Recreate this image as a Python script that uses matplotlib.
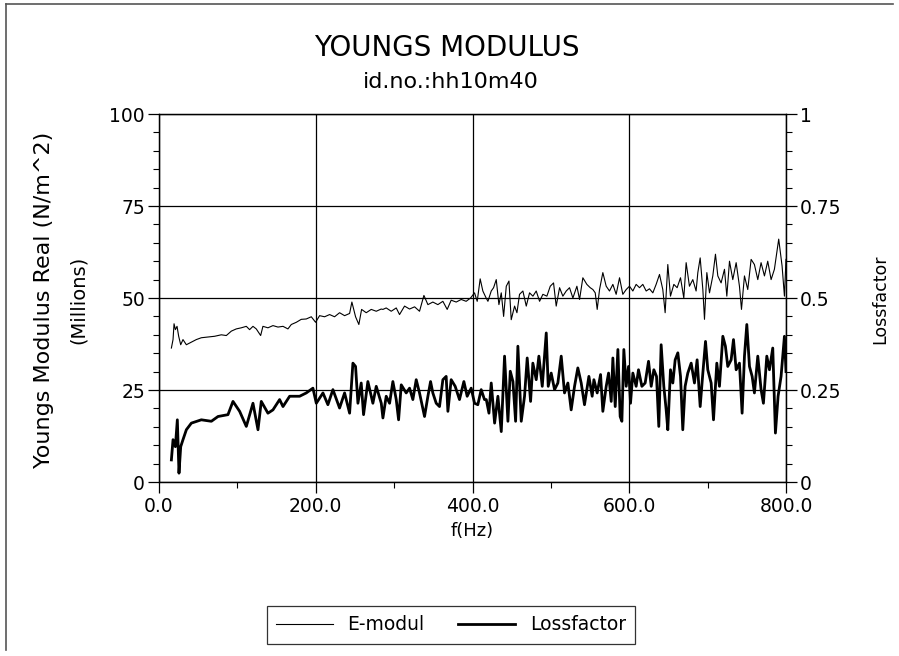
import matplotlib
matplotlib.use("Agg")
import matplotlib.pyplot as plt
from matplotlib.ticker import MultipleLocator, FixedLocator, FuncFormatter
from matplotlib.lines import Line2D

# ---------------- data ----------------
emod_f = [15.8, 17.9, 19.2, 20.9, 23.0, 25.1, 27.7, 30.6, 34.9, 41.3, 47.6, 54.0, 62.5, 71.0,
          79.5, 85.9, 92.3, 98.6, 105.0, 111.4, 115.6, 119.9, 124.1, 129.7, 132.6, 139.0,
          145.4, 151.8, 158.2, 164.5, 168.8, 175.2, 181.5, 187.9, 194.3, 199.8, 204.9, 211.3,
          217.7, 224.0, 230.4, 236.8, 243.2, 246.1, 250.8, 255.0, 258.5, 264.4, 270.8, 277.2,
          283.5, 285.7, 289.9, 296.3, 302.7, 306.9, 313.3, 319.7, 326.1, 332.4, 338.0, 343.1,
          349.4, 355.8, 362.2, 367.7, 372.8, 379.2, 385.6, 391.9, 397.5, 402.6, 406.0, 409.8,
          413.2, 417.4, 419.7, 423.9, 426.9, 430.3, 433.7, 436.7, 439.7, 443.1, 446.5, 449.4,
          453.7, 456.7, 460.0, 464.3, 468.6, 472.8, 477.1, 481.3, 485.6, 489.8, 494.9, 499.2,
          503.4, 506.8, 511.1, 515.3, 519.6, 523.8, 528.1, 533.2, 536.6, 540.8, 545.9, 550.2,
          553.6, 556.6, 559.1, 562.1, 566.3, 570.6, 574.8, 579.1, 583.3, 587.6, 591.8, 596.1,
          600.3, 604.6, 608.8, 613.1, 617.3, 621.6, 625.8, 630.1, 634.3, 638.6, 642.8, 645.8,
          649.2, 652.6, 656.9, 661.1, 665.4, 669.6, 672.6, 676.8, 681.1, 685.3, 687.5, 690.5,
          693.9, 696.0, 699.0, 702.4, 706.6, 710.0, 713.0, 717.2, 721.5, 724.5, 727.9, 732.1,
          736.4, 740.6, 743.2, 747.0, 751.2, 755.5, 759.7, 764.0, 768.2, 772.5, 776.7, 781.0,
          785.2, 790.7, 795.0, 798.0, 800.0]
emod_val = [36.4, 38.7, 43.0, 41.4, 42.3, 39.6, 37.3, 38.7, 37.3, 38.0, 38.7, 39.2, 39.4, 39.6,
            40.0, 39.8, 41.0, 41.6, 41.9, 42.3, 41.4, 42.3, 41.6, 39.8, 42.3, 41.9,
            42.5, 42.1, 42.3, 41.6, 42.8, 43.4, 44.2, 44.3, 44.9, 43.4, 45.2, 44.9,
            45.5, 44.9, 46.0, 45.2, 45.8, 48.9, 44.9, 42.8, 46.9, 46.0, 46.9, 46.4,
            47.0, 46.9, 47.3, 46.4, 47.3, 45.5, 47.8, 47.0, 47.6, 46.4, 50.7, 48.2,
            48.9, 48.2, 49.1, 46.9, 49.4, 48.9, 49.6, 49.1, 50.0, 51.4, 49.1, 55.2,
            51.9, 50.0, 49.1, 51.9, 52.8, 55.0, 48.2, 51.4, 45.0, 53.2, 54.6, 44.1,
            47.8, 46.0, 51.0, 51.9, 47.8, 51.4, 50.5, 51.9, 49.1, 51.0, 50.5, 53.2,
            54.1, 47.8, 52.8, 50.5, 51.9, 52.8, 50.0, 53.2, 49.6, 55.5, 53.7, 52.8,
            52.3, 51.4, 46.9, 52.3, 56.9, 53.2, 51.9, 53.7, 51.0, 55.5, 51.0, 52.3,
            53.2, 51.9, 53.7, 52.8, 53.7, 51.9, 52.5, 51.4, 53.7, 56.4, 52.3, 46.0,
            59.1, 50.5, 53.7, 52.8, 55.5, 50.0, 59.6, 53.2, 55.0, 51.9, 56.9, 60.9,
            52.3, 44.2, 56.9, 51.4, 56.0, 61.9, 56.0, 54.1, 57.8, 50.5, 60.0, 55.0,
            59.6, 53.2, 46.9, 56.0, 52.3, 60.5, 59.1, 55.0, 59.6, 56.0, 60.0, 55.0,
            57.8, 66.0, 58.7, 50.5, 60.5]

loss_f = [15.8, 17.9, 20.9, 23.4, 25.5, 27.7, 30.6, 34.9, 41.3, 54.0, 66.8, 75.3, 88.0, 94.4,
          102.9, 111.4, 119.9, 126.3, 130.5, 139.0, 145.4, 153.9, 158.2, 166.7, 179.4, 187.9,
          196.4, 200.7, 209.2, 215.5, 221.9, 230.4, 236.8, 243.2, 247.4, 250.8, 253.8, 258.0,
          261.0, 266.5, 272.9, 277.2, 283.6, 285.7, 289.9, 294.2, 298.4, 302.7, 305.7, 309.1,
          315.4, 319.7, 323.9, 328.2, 332.4, 338.8, 343.1, 346.5, 349.4, 353.7, 357.9, 362.2,
          366.4, 368.6, 372.8, 377.9, 383.4, 389.0, 393.2, 398.3, 402.6, 406.8, 411.1, 415.3,
          417.6, 421.0, 423.9, 428.2, 432.4, 436.7, 440.9, 445.2, 448.2, 451.6, 455.0, 457.9,
          462.2, 466.4, 469.8, 474.1, 477.0, 481.3, 484.7, 489.0, 494.1, 496.6, 500.4, 504.7,
          508.9, 513.2, 517.4, 521.7, 525.9, 530.2, 534.4, 538.7, 542.9, 548.5, 552.7, 554.9,
          559.1, 563.4, 566.3, 570.6, 573.6, 577.0, 579.1, 582.1, 585.5, 588.4, 590.6, 593.1,
          596.1, 599.1, 601.6, 604.6, 608.8, 611.8, 616.1, 620.3, 624.6, 628.0, 631.4, 634.8,
          637.7, 640.7, 644.1, 647.1, 649.2, 652.6, 655.6, 658.6, 662.0, 665.4, 668.3, 671.3,
          674.7, 679.0, 683.2, 686.6, 690.5, 693.9, 697.3, 700.2, 704.5, 707.5, 711.7, 715.1,
          719.4, 722.7, 725.7, 730.0, 733.0, 736.4, 740.6, 744.0, 747.0, 750.0, 753.4, 756.8,
          759.7, 764.0, 768.2, 771.2, 775.5, 778.9, 783.1, 786.5, 789.9, 793.7, 798.0, 800.0]
loss_val = [0.060, 0.115, 0.096, 0.169, 0.024, 0.096, 0.115, 0.142, 0.160, 0.169, 0.165, 0.178,
            0.183, 0.219, 0.192, 0.151, 0.214, 0.142, 0.219, 0.187, 0.196, 0.224, 0.205, 0.233,
            0.233, 0.242, 0.255, 0.214, 0.242, 0.210, 0.251, 0.201, 0.242, 0.187, 0.323, 0.314,
            0.214, 0.269, 0.183, 0.273, 0.214, 0.260, 0.214, 0.174, 0.233, 0.214, 0.273, 0.224,
            0.169, 0.264, 0.242, 0.255, 0.224, 0.278, 0.242, 0.178, 0.233, 0.273, 0.242, 0.214,
            0.205, 0.278, 0.287, 0.192, 0.278, 0.260, 0.224, 0.273, 0.233, 0.255, 0.214, 0.210,
            0.251, 0.224, 0.224, 0.187, 0.269, 0.160, 0.233, 0.137, 0.342, 0.165, 0.301, 0.273,
            0.165, 0.369, 0.165, 0.233, 0.337, 0.219, 0.323, 0.278, 0.342, 0.260, 0.405, 0.260,
            0.296, 0.251, 0.269, 0.342, 0.242, 0.269, 0.196, 0.260, 0.310, 0.269, 0.210, 0.287,
            0.233, 0.278, 0.242, 0.292, 0.192, 0.260, 0.296, 0.219, 0.337, 0.205, 0.360, 0.178,
            0.165, 0.360, 0.260, 0.314, 0.214, 0.296, 0.260, 0.305, 0.260, 0.269, 0.328, 0.260,
            0.305, 0.287, 0.151, 0.373, 0.260, 0.196, 0.142, 0.305, 0.269, 0.332, 0.351, 0.287,
            0.142, 0.260, 0.296, 0.323, 0.269, 0.332, 0.205, 0.296, 0.382, 0.305, 0.269, 0.169,
            0.323, 0.260, 0.396, 0.369, 0.314, 0.332, 0.387, 0.305, 0.323, 0.187, 0.342, 0.428,
            0.314, 0.287, 0.242, 0.342, 0.251, 0.214, 0.342, 0.305, 0.364, 0.133, 0.233, 0.287,
            0.396, 0.300]

title = "YOUNGS MODULUS"
subtitle = "id.no.:hh10m40"
xticks = [0, 200, 400, 600, 800]
yticks_left = [0, 25, 50, 75, 100]
yticks_right = [0, 0.25, 0.5, 0.75, 1]
yticks_right_labels = ["0", "0.25", "0.5", "0.75", "1"]

# ---------------- figure ----------------
plt.rcParams['font.family'] = ['DejaVu Sans']
fig = plt.figure(figsize=(8.99, 6.56), dpi=100)
ax = fig.add_axes([159 / 899, 1 - 482 / 656, (786 - 159) / 899, (482 - 114) / 656])
ax2 = ax.twinx()

ax.plot(emod_f, emod_val, color='black', lw=0.8, zorder=3)
ax2.plot(loss_f, loss_val, color='black', lw=2.0, zorder=3)

ax.set_xlim(0, 800)
ax.set_ylim(0, 100)
ax2.set_ylim(0, 1)

ax.xaxis.set_major_locator(FixedLocator(xticks))
ax.xaxis.set_minor_locator(MultipleLocator(100))
ax.xaxis.set_major_formatter(FuncFormatter(lambda v, p: f"{v:.1f}"))
ax.yaxis.set_major_locator(FixedLocator(yticks_left))
ax.yaxis.set_minor_locator(MultipleLocator(5))
ax2.yaxis.set_major_locator(FixedLocator(yticks_right))
ax2.set_yticklabels(yticks_right_labels)
ax2.yaxis.set_minor_locator(MultipleLocator(0.05))

for a in (ax, ax2):
    a.tick_params(which='major', direction='out', length=8, width=0.9, labelsize=13.5, pad=2)
    a.tick_params(which='minor', direction='out', length=4, width=0.8)
    for s in a.spines.values():
        s.set_linewidth(0.9)

ax.grid(True, which='major', color='black', lw=0.9)
ax.tick_params(axis='x', pad=3)

ax.set_xlabel("f(Hz)", fontsize=13, labelpad=4)
fig.text(44 / 899, 1 - 300 / 656, "Youngs Modulus Real (N/m^2)", rotation=90,
         ha='center', va='center', fontsize=16)
fig.text(78 / 899, 1 - 300 / 656, "(Millions)", rotation=90,
         ha='center', va='center', fontsize=14)
fig.text(880 / 899, 1 - 299 / 656, "Lossfactor", rotation=90,
         ha='center', va='center', fontsize=12.5)

fig.text(447 / 899, 1 - 48 / 656, title, ha='center', va='center', fontsize=20,
         color='black')
fig.text(451 / 899, 1 - 82 / 656, subtitle, ha='center', va='center', fontsize=16,
         color='black')

handles = [Line2D([0], [0], color='black', lw=0.8),
           Line2D([0], [0], color='black', lw=2.0)]
leg = fig.legend(handles, ["E-modul", "Lossfactor"], loc='center',
                 bbox_to_anchor=(451 / 899, 1 - 625 / 656), ncol=2, frameon=True,
                 fancybox=False, edgecolor='black', fontsize=13.5, handlelength=3.0,
                 columnspacing=1.8, borderpad=0.5)
leg.get_frame().set_linewidth(0.9)

# page border (top and left edges visible in the scan)
fig.add_artist(Line2D([6 / 899, 893 / 899], [1 - 4 / 656, 1 - 4 / 656], color='#555555', lw=1.2))
fig.add_artist(Line2D([6 / 899, 6 / 899], [1 - 4 / 656, 1 - 650 / 656], color='#555555', lw=1.2))

fig.savefig("out.png", dpi=100)
